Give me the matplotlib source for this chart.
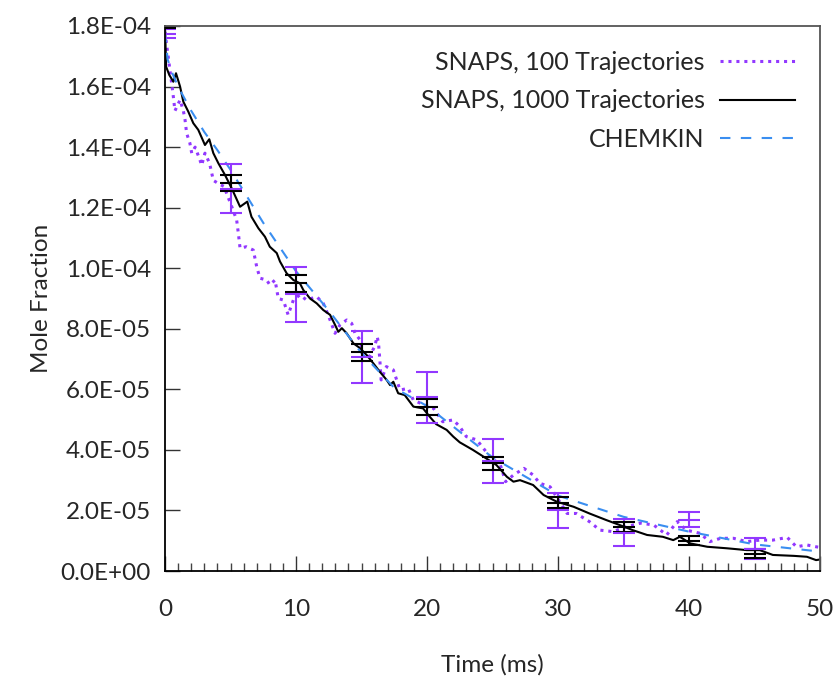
import matplotlib
matplotlib.use("Agg")
import matplotlib.pyplot as plt
from matplotlib.ticker import MultipleLocator, FuncFormatter
import numpy as np

# ── data (mole fraction in units of 1e-5) ────────────────────────────────
t_1000 = [0, 0.05, 0.08, 0.33, 0.64, 0.84, 1.15, 1.4, 1.78, 2.16, 2.54, 3.05, 3.38,
          3.69, 4.07, 4.58, 5.09, 5.73, 6.28, 6.6, 7.13, 7.63, 8.0, 8.53, 8.78, 9.29,
          9.8, 10.3, 10.56, 11.07, 11.58, 12.08, 12.6, 12.98, 13.23, 13.5, 13.87,
          14.38, 14.89, 15.4, 15.9, 16.4, 16.92, 17.18, 17.43, 17.8, 18.3, 18.96,
          19.7, 20.2, 20.7, 21.5, 22.0, 22.5, 23.5, 24.3, 25.3, 26.1, 26.6, 27.1,
          28.1, 28.9, 29.9, 31.2, 32.4, 33.7, 34.7, 35.7, 36.8, 38.0, 38.8, 39.3,
          40.1, 41.4, 42.9, 44.4, 45.4, 46.4, 48.0, 49.0, 49.7, 50.0]
y_1000 = [18.0, 17.2, 16.66, 16.38, 16.16, 16.44, 16.0, 15.5, 15.17, 14.79, 14.57,
          14.07, 14.26, 13.8, 13.47, 13.08, 12.64, 12.03, 12.2, 11.7, 11.32, 11.04,
          10.71, 10.5, 10.22, 9.83, 9.61, 9.5, 9.28, 9.0, 8.84, 8.62, 8.46, 8.13,
          7.9, 8.02, 7.85, 7.52, 7.36, 7.13, 6.86, 6.58, 6.31, 6.14, 6.25, 5.87,
          5.81, 5.43, 5.37, 5.1, 4.85, 4.66, 4.44, 4.25, 4.0, 3.78, 3.5, 3.11, 2.95,
          3.0, 2.84, 2.51, 2.29, 2.12, 1.9, 1.68, 1.52, 1.35, 1.19, 1.13, 1.02,
          1.13, 0.91, 0.8, 0.75, 0.69, 0.69, 0.53, 0.5, 0.47, 0.36, 0.38]

t_100 = [0, 0.3, 0.6, 0.76, 1.15, 1.4, 1.53, 1.65, 1.9, 2.04, 2.3, 2.67, 2.8, 3.05,
         3.4, 3.69, 4.07, 4.5, 5.1, 5.47, 5.6, 5.73, 6.2, 6.74, 7.0, 7.25, 7.76, 8.0,
         8.4, 8.65, 9.03, 9.4, 9.8, 10.3, 10.8, 11.58, 12.08, 12.3, 12.6, 12.98,
         13.36, 13.87, 14.25, 14.5, 14.9, 15.1, 15.6, 16.0, 16.2, 16.3, 16.4, 16.5,
         16.9, 17.43, 17.94, 18.57, 18.95, 19.5, 20.5, 21.2, 22.0, 22.5, 23.0, 23.8,
         24.8, 25.6, 26.0, 26.6, 27.4, 28.1, 28.6, 29.4, 30.2, 30.7, 31.4, 32.4,
         33.2, 34.2, 35.2, 36.3, 37.3, 38.3, 39.1, 39.8, 40.8, 41.6, 42.4, 43.4,
         44.4, 45.4, 46.4, 47.5, 48.2, 49.0, 49.7, 50.0]
y_100 = [17.8, 16.8, 15.8, 15.2, 15.56, 15.2, 14.9, 14.46, 14.13, 13.8, 14.0, 13.57,
         13.4, 13.8, 13.47, 12.9, 12.8, 12.7, 12.03, 11.59, 11.15, 10.66, 10.71,
         10.6, 10.05, 9.67, 9.61, 9.45, 9.61, 9.0, 8.95, 8.46, 8.95, 9.12, 8.95,
         9.06, 8.84, 8.62, 8.29, 7.85, 8.13, 8.29, 8.18, 7.85, 7.63, 7.19, 7.08,
         7.41, 7.74, 7.52, 6.97, 6.31, 6.75, 6.64, 5.98, 6.03, 5.65, 5.54, 5.37,
         4.93, 4.99, 4.77, 4.44, 4.33, 3.78, 3.5, 2.95, 3.17, 3.39, 3.17, 2.9, 2.78,
         2.24, 1.9, 1.9, 1.63, 1.35, 1.3, 1.46, 1.58, 1.52, 1.19, 1.63, 1.35, 1.25,
         0.97, 1.08, 1.08, 0.97, 1.02, 1.02, 1.11, 0.8, 0.86, 0.8, 0.78]

t_chem = [0, 0.2, 0.5, 1, 2, 3, 4, 5, 7.5, 10, 12.5, 15, 17.5, 20, 25, 30, 35, 40,
          45, 50]
y_chem = [17.8, 16.9, 16.5, 16.0, 15.2, 14.5, 13.9, 13.25, 11.5, 9.9, 8.6, 7.2,
          6.05, 5.45, 3.75, 2.49, 1.79, 1.3, 0.88, 0.64]

t_err = [0, 5, 10, 15, 20, 25, 30, 35, 40, 45]
mean_100 = [17.75, 12.63, 9.14, 7.07, 5.74, 3.63, 2.0, 1.27, 1.70, 0.74]
sd_100 = [0.15, 0.82, 0.91, 0.87, 0.84, 0.73, 0.57, 0.44, 0.26, 0.36]
mean_1000 = [17.98, 12.82, 9.50, 7.22, 5.41, 3.56, 2.26, 1.46, 1.00, 0.57]
sd_1000 = [0.06, 0.26, 0.27, 0.27, 0.26, 0.22, 0.19, 0.16, 0.14, 0.15]

scale = 1e-5
purple = "#9238ff"
blue = "#3a8ef0"
ink = "#262626"

plt.rcParams.update({
    "font.family": ["Lato", "DejaVu Sans"],
    "font.size": 17.5,
    "text.color": ink,
    "axes.labelcolor": ink,
    "xtick.labelcolor": ink,
    "ytick.labelcolor": ink,
})

fig = plt.figure(figsize=(8.38, 6.79), dpi=100)
ax = fig.add_axes([165 / 838, 1 - 571 / 679, 655 / 838, 545 / 679])

ax.plot(t_100, np.array(y_100) * scale, ls=(0, (1, 1.6)), lw=2.2, color=purple,
        label="SNAPS, 100 Trajectories")
ax.plot(t_1000, np.array(y_1000) * scale, ls="-", lw=1.5, color="black",
        label="SNAPS, 1000 Trajectories")
ax.plot(t_chem, np.array(y_chem) * scale, ls=(0, (5, 5)), lw=1.5, color=blue,
        label="CHEMKIN")

ax.errorbar(t_err, np.array(mean_100) * scale, yerr=np.array(sd_100) * scale,
            fmt="_", ms=16, mew=1.5, color=purple, ecolor=purple, elinewidth=1.5,
            capsize=8, capthick=1.5)
ax.errorbar(t_err, np.array(mean_1000) * scale, yerr=np.array(sd_1000) * scale,
            fmt="_", ms=16, mew=1.5, color="black", ecolor="black", elinewidth=1.5,
            capsize=8, capthick=1.5)

ax.set_xlim(0, 50)
ax.set_ylim(0, 1.8e-4)
ax.xaxis.set_major_locator(MultipleLocator(10))
ax.xaxis.set_minor_locator(MultipleLocator(1))
ax.yaxis.set_major_locator(MultipleLocator(2e-5))
ax.yaxis.set_major_formatter(FuncFormatter(lambda v, p: f"{v:.1E}"))
ax.tick_params(axis="both", which="both", direction="in", top=False, right=False)
ax.tick_params(axis="x", which="major", length=11, width=1, pad=20, color="#333333")
ax.tick_params(axis="x", which="minor", length=6, width=1, color="#444444")
ax.tick_params(axis="y", which="major", length=11, width=1, pad=10, color="#333333")
for s in ax.spines.values():
    s.set_linewidth(1.3)
ax.spines["top"].set_color("#555555")
ax.spines["right"].set_color("#555555")

ax.set_xlabel("Time (ms)", labelpad=25)
ax.set_ylabel("Mole Fraction", labelpad=6)

ax.legend(loc="upper right", frameon=False, markerfirst=False, handlelength=3.0,
          handletextpad=0.62, labelspacing=0.62, borderaxespad=0.6, fontsize=18)

fig.savefig("out.png", dpi=100)
